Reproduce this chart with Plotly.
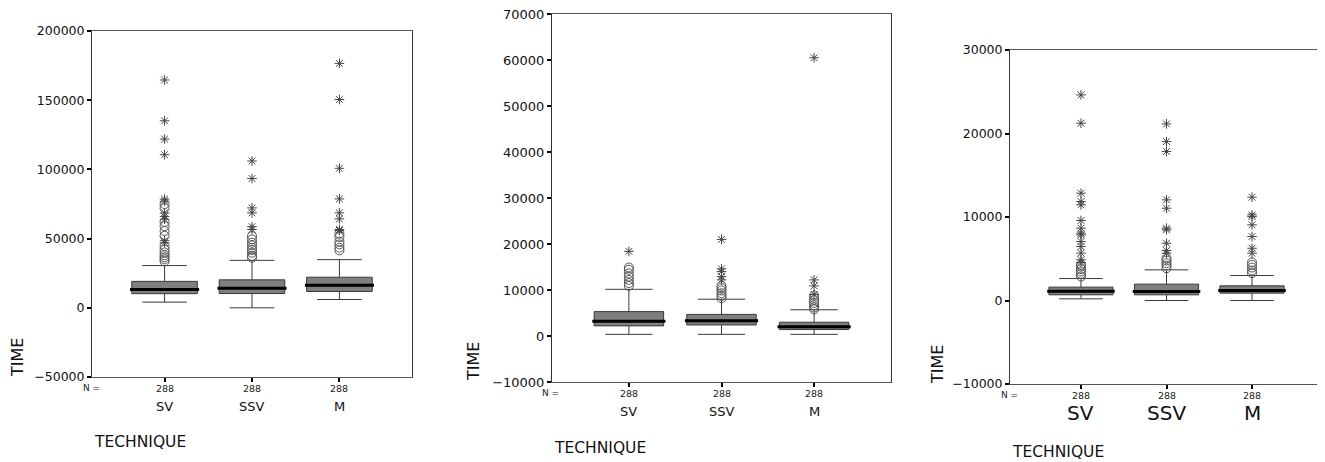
import plotly.graph_objects as go

W, H = 1325, 462
OFF = 8  # page body margin offset
FW, FH = W - OFF, H - OFF
categories = ["SV", "SSV", "M"]
n_labels = ["288", "288", "288"]

# Panel 1
p1_lo = [4100, 0, 6000]
p1_q1 = [10200, 10300, 11800]
p1_med = [13300, 14200, 16300]
p1_q3 = [19100, 20200, 22100]
p1_hi = [30500, 34300, 34800]
p1_circ = [[33500, 35000, 36500, 38000, 40000, 42000, 44500, 52000, 55500, 59000, 62000, 72000, 75000],
           [36200, 37400, 39800, 41800, 43400, 45100, 47000, 49400, 51800],
           [41500, 43400, 45800, 47800, 51100, 53500]]
p1_star = [[47000, 48500, 64000, 66000, 68500, 77000, 78500, 110600, 121900, 135100, 164600],
           [56600, 58600, 68600, 72200, 93400, 106100],
           [55900, 56600, 64300, 68600, 78700, 100800, 150500, 176600]]
p1_ticks = [-50000, 0, 50000, 100000, 150000, 200000]

# Panel 2
p2_lo = [360, 360, 360]
p2_q1 = [2200, 2400, 1400]
p2_med = [3200, 3300, 2000]
p2_q3 = [5300, 4700, 3000]
p2_hi = [10150, 8000, 5700]
p2_circ = [[10900, 11500, 12200, 12900, 13600, 14400, 14900],
           [8200, 8700, 9300, 9900, 10400, 10900],
           [5800, 6200, 6700, 7200, 7800, 8300, 8800]]
p2_star = [[18400],
           [12200, 12900, 14000, 14600, 21000],
           [9000, 10900, 12200, 60500]]
p2_ticks = [-10000, 0, 10000, 20000, 30000, 40000, 50000, 60000, 70000]

# Panel 3
p3_lo = [200, 0, 0]
p3_q1 = [680, 680, 880]
p3_med = [1120, 1080, 1200]
p3_q3 = [1600, 1960, 1760]
p3_hi = [2630, 3670, 2990]
p3_circ = [[2870, 3190, 3470, 3750, 4070, 4270],
           [3870, 4190, 4470, 4790, 5070],
           [3270, 3590, 3950, 4270, 4550]]
p3_star = [[4550, 4870, 5670, 6460, 7060, 7860, 8060, 8660, 9580, 11450, 11850, 12850, 21230, 24620],
           [5670, 5980, 6860, 8460, 8660, 11050, 12050, 17840, 19030, 21150],
           [5670, 6260, 7660, 9060, 10050, 10250, 12370]]
p3_ticks = [-10000, 0, 10000, 20000, 30000]

FONT = "DejaVu Sans"


def fx(px):
    return (px - OFF) / FW


def fy(py):
    return 1 - (py - OFF) / FH


panels = [
    dict(lo=p1_lo, q1=p1_q1, med=p1_med, q3=p1_q3, hi=p1_hi, circ=p1_circ, star=p1_star,
         ticks=p1_ticks, yr=[-50000, 200000], px=(92, 412), py=(31, 377), tfs=12.5,
         nlab=(91, 388), cat_y=406, cat_fs=13, tech=(92, 442), time=(17, 358)),
    dict(lo=p2_lo, q1=p2_q1, med=p2_med, q3=p2_q3, hi=p2_hi, circ=p2_circ, star=p2_star,
         ticks=p2_ticks, yr=[-10000, 70000], px=(552, 891), py=(14, 382), tfs=13,
         nlab=(550, 393), cat_y=411, cat_fs=13, tech=(552, 448), time=(473, 362)),
    dict(lo=p3_lo, q1=p3_q1, med=p3_med, q3=p3_q3, hi=p3_hi, circ=p3_circ, star=p3_star,
         ticks=p3_ticks, yr=[-10000, 30000], px=(1010, 1323), py=(50, 384), tfs=12.5,
         nlab=(1009, 395), cat_y=413, cat_fs=20, tech=(1010, 452), time=(937, 365)),
]

fig = go.Figure()
annotations = []
xs = [0, 1, 2]
BW = 0.75

for k, p in enumerate(panels):
    sfx = "" if k == 0 else str(k + 1)
    xa, ya = "x" + sfx, "y" + sfx
    fig.add_trace(go.Box(
        x=xs, q1=p["q1"], median=p["med"], q3=p["q3"],
        lowerfence=p["lo"], upperfence=p["hi"],
        width=BW, whiskerwidth=0.68, boxpoints=False,
        fillcolor="#7f7f7f", line=dict(color="#3a3a3a", width=1),
        xaxis=xa, yaxis=ya, showlegend=False, hoverinfo="skip"))
    # median lines
    mx, my = [], []
    for i, m in enumerate(p["med"]):
        mx += [i - BW / 2 - 0.02, i + BW / 2 + 0.02, None]
        my += [m, m, None]
    fig.add_trace(go.Scatter(x=mx, y=my, mode="lines", line=dict(color="black", width=3),
                             xaxis=xa, yaxis=ya, showlegend=False, hoverinfo="skip"))
    cx, cy, sx, sy = [], [], [], []
    for i in range(3):
        cx += [i] * len(p["circ"][i]); cy += p["circ"][i]
        sx += [i] * len(p["star"][i]); sy += p["star"][i]
    fig.add_trace(go.Scatter(x=cx, y=cy, mode="markers",
                             marker=dict(symbol="circle-open", size=9, color="#555555", line=dict(width=1)),
                             xaxis=xa, yaxis=ya, showlegend=False, hoverinfo="skip"))
    fig.add_trace(go.Scatter(x=sx, y=sy, mode="markers",
                             marker=dict(symbol="asterisk-open", size=8, color="#444444", line=dict(width=1, color="#444444")),
                             xaxis=xa, yaxis=ya, showlegend=False, hoverinfo="skip"))
    x0, x1 = p["px"]; y0, y1 = p["py"]
    fig.update_layout(**{
        "xaxis" + sfx: dict(domain=[fx(x0), fx(x1)], range=[-0.83, 2.83], anchor=ya, automargin=False,
                             showgrid=False, zeroline=False, tickvals=xs, showticklabels=False,
                             ticks="outside", ticklen=4, tickwidth=2, tickcolor="black",
                             showline=True, linecolor="#555555", linewidth=1, mirror=True),
        "yaxis" + sfx: dict(domain=[fy(y1), fy(y0)], range=p["yr"], anchor=xa, automargin=False,
                             showgrid=False, zeroline=False, tickvals=p["ticks"],
                             ticktext=[str(t).replace("-", "\u2212") for t in p["ticks"]],
                             ticks="outside", ticklen=4, tickwidth=2, tickcolor="black",
                             ticklabeloverflow="allow",
                             tickfont=dict(family=FONT, size=p["tfs"], color="#111111"),
                             showline=True, linecolor="#333333", linewidth=1, mirror=True),
    })
    annotations.append(dict(text="N =", xref="paper", yref="paper", x=fx(p["nlab"][0]), y=fy(p["nlab"][1]),
                            showarrow=False, font=dict(family=FONT, size=9, color="#222222"),
                            xanchor="center", yanchor="middle"))
    for i in range(3):
        annotations.append(dict(text=n_labels[i], xref=xa, yref="paper", x=i, y=fy(p["nlab"][1]),
                                showarrow=False, font=dict(family=FONT, size=9.5, color="#222222"),
                                xanchor="center", yanchor="middle"))
        annotations.append(dict(text=categories[i], xref=xa, yref="paper", x=i, y=fy(p["cat_y"]),
                                showarrow=False, font=dict(family=FONT, size=p["cat_fs"], color="#111111"),
                                xanchor="center", yanchor="middle"))
    annotations.append(dict(text="TECHNIQUE", xref="paper", yref="paper", x=fx(p["tech"][0]), y=fy(p["tech"][1]),
                            showarrow=False, font=dict(family=FONT, size=15.5, color="#111111"),
                            xanchor="left", yanchor="middle"))
    annotations.append(dict(text="TIME", xref="paper", yref="paper", x=fx(p["time"][0]), y=fy(p["time"][1]),
                            showarrow=False, textangle=-90, font=dict(family=FONT, size=16, color="#111111"),
                            xanchor="center", yanchor="middle"))

fig.update_layout(width=FW, height=FH, margin=dict(l=0, r=0, t=0, b=0, pad=0, autoexpand=False),
                  paper_bgcolor="white", plot_bgcolor="white", annotations=annotations,
                  showlegend=False)
fig.write_html("out.html")
